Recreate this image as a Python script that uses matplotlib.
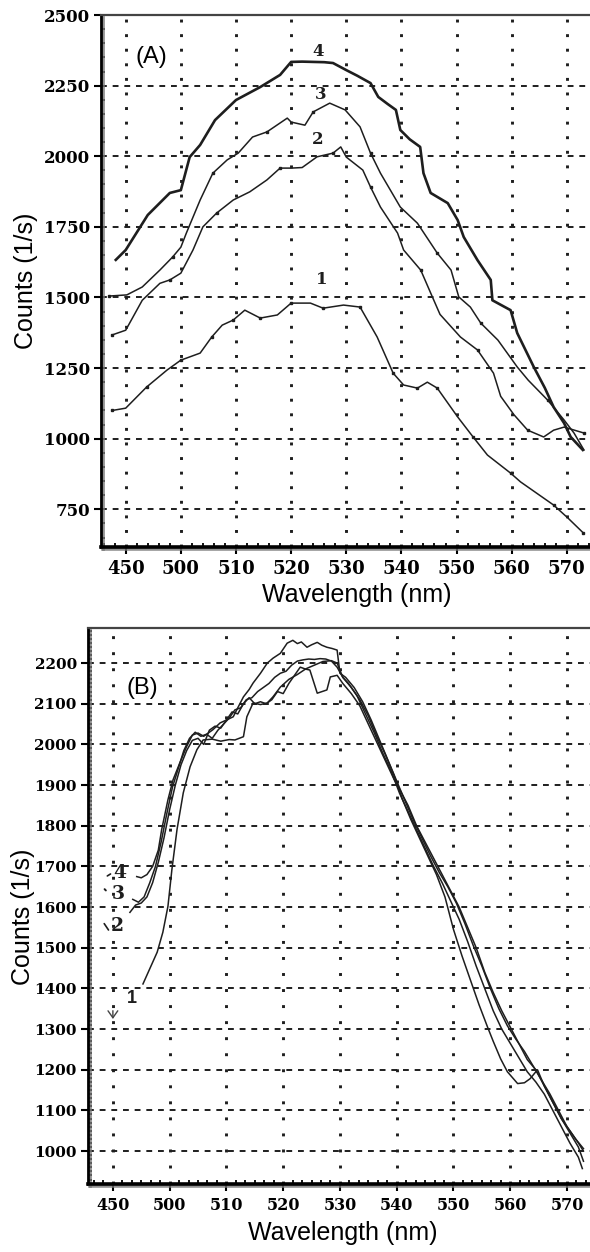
import matplotlib
matplotlib.use("Agg")
import matplotlib.pyplot as plt
import matplotlib.patheffects as pe
from matplotlib.ticker import MultipleLocator, AutoMinorLocator

# tick marks sit on an even 10 nm grid, the first one is printed as "450"
x_ticks = [490, 500, 510, 520, 530, 540, 550, 560, 570]
x_tick_labels = ["450", "500", "510", "520", "530", "540", "550", "560", "570"]

a_y_ticks = [750, 1000, 1250, 1500, 1750, 2000, 2250, 2500]
b_y_ticks = [1000, 1100, 1200, 1300, 1400, 1500, 1600, 1700, 1800, 1900, 2000, 2100, 2200]

# ---- panel A spectra ----
a1_x = [487.6, 490.0, 493.8, 497.5, 500.0, 503.5, 505.6, 507.5, 509.5, 511.6, 514.4, 517.5, 520.0, 523.5,
        525.8, 529.5, 532.5, 535.6, 538.5, 540.4, 542.9, 544.7, 546.5, 550.2, 553.0, 555.6, 559.8, 561.6,
        567.6, 570.2, 573.0]
a1_y = [1100, 1108, 1183, 1243, 1278, 1303, 1360, 1402, 1420, 1455, 1427, 1438, 1480, 1480,
        1462, 1473, 1466, 1360, 1232, 1190, 1179, 1200, 1179, 1077, 1006, 942, 878, 847,
        765, 719, 666]

a2_x = [487.5, 490.0, 493.0, 496.2, 498.0, 500.0, 502.2, 504.0, 506.5, 509.5, 512.5, 515.6, 518.0, 520.0,
        522.0, 524.7, 527.6, 529.0, 530.0, 533.0, 534.4, 536.2, 539.3, 540.4, 543.5, 545.3, 547.0, 550.7,
        553.8, 556.7, 558.0, 560.4, 562.9, 565.8, 567.6, 569.5, 573.1]
a2_y = [1367, 1384, 1490, 1550, 1562, 1586, 1668, 1750, 1799, 1845, 1874, 1916, 1958, 1958,
        1960, 1998, 2011, 2033, 1997, 1951, 1891, 1820, 1728, 1668, 1597, 1516, 1440, 1360,
        1314, 1232, 1150, 1085, 1030, 1006, 1030, 1041, 1020]

a3_x = [487.0, 490.2, 493.0, 496.2, 498.5, 500.0, 501.0, 503.5, 505.8, 508.4, 510.4, 513.0, 515.6, 519.3,
        520.0, 522.5, 524.0, 527.0, 529.8, 532.5, 534.4, 536.2, 539.8, 542.9, 546.5, 549.0, 550.4, 552.5,
        554.4, 557.5, 561.0, 563.0, 566.5, 569.5, 571.3, 573.1]
a3_y = [1505, 1509, 1537, 1597, 1643, 1678, 1728, 1845, 1940, 1987, 2011, 2068, 2086, 2135,
        2121, 2110, 2157, 2188, 2164, 2104, 2011, 1940, 1820, 1763, 1657, 1597, 1502, 1466,
        1409, 1349, 1254, 1207, 1137, 1066, 1020, 960]

a4_x = [488.2, 490.0, 494.0, 498.0, 500.0, 501.6, 503.5, 506.2, 510.0, 514.4, 518.0, 520.0, 522.0, 524.0,
        526.0, 527.6, 530.0, 532.0, 534.4, 535.8, 537.5, 539.0, 539.8, 541.5, 543.4, 544.0, 545.3, 548.4,
        550.2, 551.3, 553.8, 556.2, 556.5, 559.8, 561.0, 564.0, 566.0, 567.6, 569.5, 570.7, 572.9]
a4_y = [1633, 1668, 1792, 1870, 1880, 1997, 2040, 2128, 2199, 2245, 2288, 2334, 2335, 2334,
        2333, 2330, 2305, 2285, 2259, 2210, 2185, 2164, 2093, 2060, 2033, 1940, 1870, 1834,
        1774, 1714, 1632, 1562, 1490, 1455, 1374, 1254, 1180, 1112, 1055, 1006, 960]

a_label_text = ["1", "2", "3", "4"]
a_label_x = [525.6, 524.9, 525.3, 524.9]
a_label_y = [1562, 2058, 2218, 2370]

# ---- panel B spectra ----
b1_x = [495.3, 497.8, 498.8, 499.7, 500.4, 501.3, 502.4, 503.6, 504.8, 505.9, 507.5, 509.0, 510.5, 511.5,
        513.0, 513.6, 514.7, 516.0, 517.2, 518.2, 519.5, 521.0, 522.5, 524.0, 525.5, 527.0, 528.5, 529.5,
        530.5, 532.0, 533.5, 535.0, 536.5, 538.0, 539.5, 541.0, 542.5, 544.0, 545.5, 547.0, 548.5, 550.0,
        551.5, 553.0, 554.5, 556.0, 557.0, 558.3, 559.5, 561.3, 562.5, 563.5, 564.8, 566.0, 567.5, 569.0,
        570.5, 572.0, 572.9]
b1_y = [1411, 1489, 1538, 1602, 1693, 1791, 1881, 1945, 1987, 2011, 2013, 2008, 2012, 2011,
        2019, 2068, 2102, 2098, 2102, 2117, 2141, 2160, 2172, 2186, 2195, 2204, 2206, 2200,
        2165, 2140, 2110, 2070, 2020, 1975, 1925, 1865, 1815, 1770, 1725, 1680, 1625, 1545,
        1480, 1420, 1360, 1305, 1270, 1227, 1195, 1166, 1168, 1178, 1200, 1160, 1120, 1080,
        1045, 1010, 975]

b2_x = [493.0, 494.0, 495.0, 496.0, 497.0, 498.0, 499.0, 500.0, 501.0, 502.0, 503.0, 504.0, 505.0, 506.0,
        507.0, 508.0, 509.0, 510.0, 511.0, 512.0, 513.0, 514.0, 515.0, 516.0, 517.0, 518.0, 519.0, 520.0,
        521.0, 522.0, 523.0, 524.0, 524.7, 526.0, 527.7, 528.3, 529.5, 530.5, 532.0, 533.5, 535.0, 536.5,
        538.0, 539.5, 540.5, 542.0, 543.5, 545.0, 546.5, 548.0, 549.5, 551.0, 552.5, 554.0, 555.5, 557.0,
        558.5, 560.0, 561.5, 563.0, 564.5, 566.0, 567.5, 569.0, 570.5, 572.0, 572.9]
b2_y = [1587, 1605, 1610, 1625, 1660, 1710, 1770, 1840, 1900, 1950, 1985, 2010, 2015, 2000,
        2035, 2045, 2040, 2060, 2080, 2075, 2100, 2115, 2100, 2105, 2100, 2110, 2130, 2125,
        2150, 2170, 2190, 2185, 2183, 2126, 2134, 2166, 2170, 2150, 2125, 2095, 2050, 2005,
        1960, 1915, 1890, 1850, 1800, 1760, 1720, 1680, 1640, 1600, 1550, 1500, 1440, 1390,
        1345, 1305, 1265, 1225, 1200, 1160, 1120, 1080, 1050, 1020, 1000]

b3_x = [493.5, 494.5, 495.5, 496.5, 497.5, 498.5, 499.5, 500.5, 501.5, 502.5, 503.5, 504.5, 505.5, 506.5,
        507.5, 508.5, 509.5, 510.5, 511.5, 512.5, 513.5, 514.5, 515.5, 516.5, 517.5, 518.5, 519.5, 520.5,
        521.5, 522.5, 523.5, 524.5, 525.5, 526.5, 527.5, 528.5, 529.5, 530.5, 531.5, 533.0, 534.5, 536.0,
        537.5, 539.0, 540.5, 542.0, 543.5, 545.0, 546.5, 548.0, 549.5, 551.0, 552.5, 554.0, 555.5, 557.0,
        558.5, 560.0, 561.5, 563.0, 564.5, 566.0, 567.5, 569.0, 570.5, 572.0, 572.7]
b3_y = [1619, 1612, 1625, 1660, 1700, 1760, 1830, 1895, 1940, 1985, 2015, 2030, 2020, 2025,
        2015, 2035, 2050, 2065, 2085, 2090, 2110, 2115, 2130, 2140, 2150, 2165, 2175, 2180,
        2195, 2205, 2208, 2210, 2209, 2211, 2210, 2205, 2190, 2165, 2150, 2120, 2075, 2030,
        1980, 1935, 1880, 1835, 1790, 1745, 1700, 1660, 1615, 1570, 1515, 1455, 1400, 1345,
        1300, 1265, 1230, 1195, 1170, 1140, 1100, 1060, 1020, 985, 957]

b4_x = [494.2, 495.0, 496.0, 497.0, 498.0, 498.6, 499.7, 500.6, 501.8, 503.0, 504.0, 505.0, 506.0, 507.0,
        507.6, 508.9, 510.0, 511.2, 512.0, 513.0, 514.0, 514.7, 516.0, 517.2, 518.2, 519.5, 520.7, 521.7,
        522.5, 523.2, 524.2, 525.0, 526.0, 526.8, 527.7, 528.6, 529.5, 530.0, 531.0, 532.5, 534.0, 535.5,
        537.0, 538.5, 540.0, 541.5, 543.0, 544.5, 546.0, 547.5, 549.0, 550.5, 552.0, 553.5, 555.0, 556.5,
        558.0, 559.5, 561.0, 562.5, 564.0, 565.5, 567.0, 568.5, 570.0, 571.5, 572.9]
b4_y = [1675, 1672, 1680, 1700, 1740, 1791, 1864, 1913, 1955, 1995, 2023, 2028, 2020, 2030,
        2036, 2053, 2060, 2068, 2090, 2117, 2135, 2151, 2175, 2200, 2212, 2224, 2249, 2256,
        2248, 2252, 2239, 2245, 2251, 2244, 2239, 2236, 2232, 2175, 2165, 2140, 2105, 2060,
        2010, 1960, 1910, 1860, 1812, 1768, 1725, 1685, 1650, 1610, 1560, 1505, 1455, 1400,
        1350, 1308, 1275, 1245, 1210, 1175, 1140, 1100, 1060, 1030, 1006]

b_label_text = ["1", "2", "3", "4"]
b_label_x = [493.4, 490.7, 490.9, 491.2]
b_label_y = [1374, 1553, 1631, 1685]

LINE = "#1e1e1e"
SANS = "Liberation Sans"

plt.rcParams["font.family"] = "DejaVu Serif"
plt.rcParams["font.weight"] = "bold"


def style_axes(ax, xlim, ylim, yticks, y_minor, x_minor_n, ysize, xsize, dot_gap):
    ax.set_xlim(*xlim)
    ax.set_ylim(*ylim)
    ax.set_xticks(x_ticks)
    ax.set_xticklabels(x_tick_labels)
    ax.set_yticks(yticks)
    ax.yaxis.set_minor_locator(MultipleLocator(y_minor))
    ax.xaxis.set_minor_locator(AutoMinorLocator(x_minor_n))
    ax.tick_params(which="major", direction="out", length=5, width=1.5, color="black")
    ax.tick_params(which="minor", direction="in", length=3, width=1.3, color="black")
    ax.tick_params(axis="y", which="major", labelsize=ysize, pad=3)
    ax.tick_params(axis="x", which="major", labelsize=xsize, pad=4)
    ax.grid(axis="y", which="major", linestyle=(0, (3, 3)), linewidth=1.4, color=LINE)
    ax.grid(axis="x", which="major", linestyle=(0, (1, dot_gap)), linewidth=2.1, color=LINE)
    ax.spines["right"].set_visible(False)
    ax.spines["top"].set_linewidth(1.6)
    ax.spines["top"].set_color("#444444")
    shadow = [pe.SimpleLineShadow(offset=(1.5, -1.5), shadow_color="#777777", alpha=0.8), pe.Normal()]
    ax.spines["left"].set_linewidth(2.0)
    ax.spines["bottom"].set_linewidth(2.6)
    ax.spines["left"].set_path_effects(shadow)
    ax.spines["bottom"].set_path_effects(shadow)


fig = plt.figure(figsize=(5.9, 12.52), dpi=100)

# ---------------- panel A ----------------
ax_a = fig.add_axes([0.171, 0.563, 0.829, 0.425])
ax_a.plot(a1_x, a1_y, color=LINE, lw=1.1, marker="s", ms=2.0, markevery=2)
ax_a.plot(a2_x, a2_y, color=LINE, lw=1.1, marker="s", ms=2.0, markevery=4)
ax_a.plot(a3_x, a3_y, color=LINE, lw=1.1, marker="s", ms=2.0, markevery=4)
ax_a.plot(a4_x, a4_y, color=LINE, lw=1.9)
style_axes(ax_a, (485.5, 574.2), (616, 2500), a_y_ticks, 50, 5, 12, 13, 4)

for t, x, y in zip(a_label_text, a_label_x, a_label_y):
    ax_a.text(x, y, t, fontsize=12, ha="center", va="center", color=LINE)
ax_a.text(494.7, 2351, "(A)", family=SANS, weight="normal", fontsize=17, ha="center", va="center")

ax_a.set_xlabel("Wavelength (nm)", family=SANS, weight="normal", fontsize=18)
ax_a.set_ylabel("Counts (1/s)", family=SANS, weight="normal", fontsize=18)
ax_a.xaxis.set_label_coords(0.523, -0.068)
ax_a.yaxis.set_label_coords(-0.128, 0.5)

# ---------------- panel B ----------------
ax_b = fig.add_axes([0.149, 0.0543, 0.851, 0.444])
for bx, by in [(b1_x, b1_y), (b2_x, b2_y), (b3_x, b3_y), (b4_x, b4_y)]:
    ax_b.plot(bx, by, color=LINE, lw=1.1)
style_axes(ax_b, (485.6, 574.05), (919, 2286), b_y_ticks, 10, 6, 11, 11.5, 4.5)

for t, x, y in zip(b_label_text, b_label_x, b_label_y):
    if t == "1":
        ax_b.text(x, y, t, family=SANS, fontsize=13, ha="center", va="center", color=LINE)
    else:
        ax_b.text(x, y, t, fontsize=13.5, ha="center", va="center", color=LINE)
# small hand-drawn leader ticks next to the labels
ax_b.annotate("", xy=(490.0, 1685), xytext=(488.6, 1673), arrowprops=dict(arrowstyle="-", lw=1.2, color=LINE))
ax_b.annotate("", xy=(489.1, 1636), xytext=(488.2, 1649), arrowprops=dict(arrowstyle="-", lw=1.4, color=LINE))
ax_b.annotate("", xy=(489.5, 1538), xytext=(488.2, 1565), arrowprops=dict(arrowstyle="-", lw=1.2, color=LINE))
ax_b.annotate("", xy=(490.0, 1318), xytext=(490.0, 1352),
              arrowprops=dict(arrowstyle="->,head_length=0.5,head_width=0.35", lw=1.0, color="#444444"))
ax_b.text(495.1, 2139, "(B)", family=SANS, weight="normal", fontsize=17, ha="center", va="center")

ax_b.set_xlabel("Wavelength (nm)", family=SANS, weight="normal", fontsize=18)
ax_b.set_ylabel("Counts (1/s)", family=SANS, weight="normal", fontsize=18)
ax_b.xaxis.set_label_coords(0.508, -0.066)
ax_b.yaxis.set_label_coords(-0.106, 0.48)

fig.savefig("out.png", dpi=100)
